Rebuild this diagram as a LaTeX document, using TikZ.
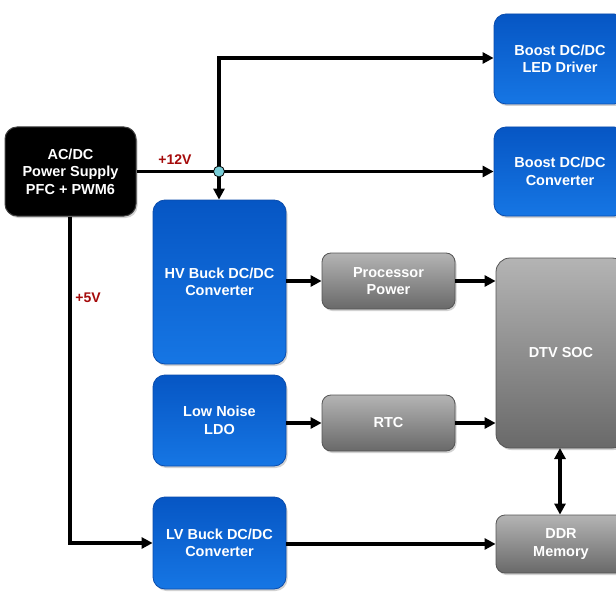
\documentclass[tikz,border=0pt]{standalone}
\usepackage{fontspec}
\setmainfont{Liberation Sans}
\usetikzlibrary{arrows.meta,shadows,calc}
\definecolor{bluetop}{RGB}{6,86,196}
\definecolor{bluebot}{RGB}{22,118,228}
\definecolor{blueedge}{RGB}{10,76,172}
\definecolor{graytop}{RGB}{180,180,180}
\definecolor{graybot}{RGB}{105,105,105}
\definecolor{grayedge}{RGB}{85,85,85}
\definecolor{labelred}{RGB}{165,10,10}
\definecolor{dotfill}{RGB}{120,205,215}
\tikzset{
  box/.style={rectangle, align=center, text=white, font=\bfseries\fontsize{14.5}{17.5}\selectfont,
    inner sep=0pt, drop shadow={opacity=0.35, shadow xshift=1.5pt, shadow yshift=-2pt}},
  bluebox/.style={box, rounded corners=12pt, top color=bluetop, bottom color=bluebot, draw=blueedge, line width=0.8pt},
  graybox/.style={box, rounded corners=9pt, top color=graytop, bottom color=graybot, draw=grayedge, line width=0.8pt},
  blackbox/.style={box, rounded corners=12pt, fill=black, draw=black!75, line width=1pt},
  conn/.style={line width=3.3pt, -{Triangle[length=11pt,width=11pt]}},
  plain/.style={line width=3.3pt},
  vlabel/.style={text=labelred, font=\bfseries\fontsize{14}{16}\selectfont}
}
\begin{document}
\begin{tikzpicture}[x=1pt,y=-1pt]
\useasboundingbox (0,0) rectangle (616,615);
\fill[white] (0,0) rectangle (616,615);
\begin{scope}
\clip (0,0) rectangle (616,615);
\node[blackbox, minimum width=131pt, minimum height=89pt] (acdc) at (70.5,171.5) {AC/DC\\Power Supply\\PFC + PWM6};
\node[bluebox, minimum width=132pt, minimum height=90pt] (boostled) at (560,59) {Boost DC/DC\\LED Driver};
\node[bluebox, minimum width=132pt, minimum height=89pt] (boostconv) at (560,171.5) {Boost DC/DC\\Converter};
\node[bluebox, minimum width=133pt, minimum height=164pt] (hvbuck) at (219.5,282) {HV Buck DC/DC\\Converter};
\node[bluebox, minimum width=133pt, minimum height=91pt] (ldo) at (219.5,420.5) {Low Noise\\LDO};
\node[bluebox, minimum width=133pt, minimum height=92pt] (lvbuck) at (219.5,543) {LV Buck DC/DC\\Converter};
\node[graybox, minimum width=133pt, minimum height=56pt] (procpwr) at (388.5,281) {Processor\\Power};
\node[graybox, minimum width=133pt, minimum height=56pt] (rtc) at (388.5,423) {RTC};
\node[graybox, rounded corners=14pt, minimum width=130pt, minimum height=190pt] (dtv) at (561,353) {DTV SOC};
\node[graybox, minimum width=130pt, minimum height=58pt] (ddr) at (561,544) {DDR\\Memory};
\end{scope}

\coordinate (junc) at (219,171.5);
\coordinate (topc) at (219,58);
\coordinate (bend5) at (70,543);

\draw[plain] (acdc.east) -- (junc);
\draw[conn] (junc) -- (boostconv.west);
\draw[conn] (junc) |- (topc) -- (topc -| boostled.west);
\draw[conn] (junc) -- (junc |- hvbuck.north);
\node[circle, fill=dotfill, draw=black, line width=0.8pt, minimum size=11pt, inner sep=0pt] (dot) at (junc) {};
\node[vlabel] (l12) at (175,160) {+12V};

\draw[conn] (acdc.south -| bend5) -- (bend5) -- (lvbuck.west);
\node[vlabel] (l5) at (88,298) {+5V};

\draw[conn] (hvbuck.east |- procpwr.west) -- (procpwr.west);
\draw[conn] (procpwr.east) -- (procpwr.east -| dtv.west);
\draw[conn] (ldo.east |- rtc.west) -- (rtc.west);
\draw[conn] (rtc.east) -- (rtc.east -| dtv.west);
\draw[conn] (lvbuck.east |- ddr.west) -- (ddr.west);
\draw[line width=3.3pt, {Triangle[length=11pt,width=11pt]}-{Triangle[length=11pt,width=11pt]}] (560,448) coordinate (dtvb) -- (dtvb |- ddr.north);
\end{tikzpicture}
\end{document}
